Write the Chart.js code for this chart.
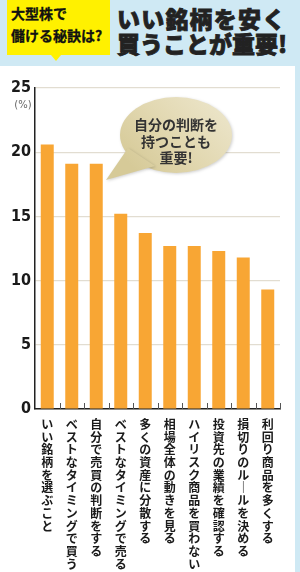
<!DOCTYPE html>
<html><head><meta charset="utf-8">
<script src="https://cdn.jsdelivr.net/npm/chart.js@4.4.1/dist/chart.umd.min.js"></script>
<style>
html,body{margin:0;padding:0;background:#fff;}
#wrap{position:relative;width:300px;height:572px;overflow:hidden;background:#fff;}
#hdr{position:absolute;left:0;top:0;width:300px;height:66px;background:#cfe9f4;z-index:2;}
#strip{position:absolute;left:295px;top:66px;width:5px;height:506px;background:#cfe9f4;z-index:2;}
#ybox{position:absolute;left:7px;top:0;width:103px;height:55px;background:#fff100;}
#ybox:after{content:"";position:absolute;left:44px;top:55px;border-left:5px solid transparent;border-right:5px solid transparent;border-top:6px solid #fff100;}
.yt{position:absolute;left:4px;font:700 14px "Noto Sans CJK JP",sans-serif;color:#111;white-space:nowrap;line-height:1;-webkit-text-stroke:0.3px #111;}
.tt{position:absolute;left:117px;font:900 23px "Noto Sans CJK JP",sans-serif;color:#222;white-space:nowrap;line-height:1;-webkit-text-stroke:0.8px #222;}
canvas{position:absolute;left:0;top:0;z-index:1;}
</style></head>
<body><div id="wrap">
<div id="hdr">
 <div id="ybox"><div class="yt" style="top:6px">大型株で</div><div class="yt" style="top:28px">儲ける秘訣は?</div></div>
 <div class="tt" style="top:7px;letter-spacing:1.2px">いい銘柄を安く</div>
 <div class="tt" style="top:32px">買うことが重要!</div>
</div>
<div id="strip"></div>
<canvas id="c" width="300" height="572"></canvas>
</div>
<script>
const categories = ['いい銘柄を選ぶこと','ベストなタイミングで買う','自分で売買の判断をする','ベストなタイミングで売る','多くの資産に分散する','相場全体の動きを見る','ハイリスク商品を買わない','投資先の業績を確認する','損切りのルールを決める','利回り商品を多くする'];
const values = [20.6,19.1,19.1,15.2,13.7,12.7,12.7,12.3,11.8,9.3];
const yTicks = [0,5,10,15,20,25];
const unitLabel = '(%)';
const bubbleLines = ['自分の判断を','持つことも','重要!'];

const verticalLabels = categories.map(s => Array.from(s).map(ch => ch === 'ー' ? '｜' : ch));

const extras = {
  id:'extras',
  afterDatasetsDraw(chart){
    const {ctx, chartArea:a} = chart;
    ctx.save();
    ctx.strokeStyle = '#555'; ctx.lineWidth = 1;
    const n = categories.length;
    const w = (a.right - a.left)/n;
    for(let i=1;i<=n;i++){
      const px = Math.round(a.left + i*w)+0.5;
      ctx.beginPath(); ctx.moveTo(px, a.bottom-6); ctx.lineTo(px, a.bottom); ctx.stroke();
    }
    ctx.fillStyle = '#666'; ctx.font = '10px "DejaVu Sans", sans-serif';
    ctx.textAlign = 'center'; ctx.textBaseline = 'middle';
    ctx.fillText(unitLabel, 23, 105);
    const cx = 176, cy = 135, rx = 56, ry = 38;
    ctx.shadowColor = 'rgba(0,0,0,0.18)'; ctx.shadowBlur = 3; ctx.shadowOffsetX = 1; ctx.shadowOffsetY = 1;
    const g = ctx.createLinearGradient(140, 175, 215, 100);
    g.addColorStop(0, '#d6ca98'); g.addColorStop(0.5, '#e2d8b1'); g.addColorStop(1, '#ebe4c8');
    ctx.fillStyle = g;
    ctx.beginPath();
    ctx.ellipse(cx, cy, rx, ry, 0, 0, Math.PI*2);
    ctx.fill();
    ctx.beginPath();
    ctx.moveTo(128, 148); ctx.lineTo(106, 180); ctx.lineTo(155, 166); ctx.closePath(); ctx.fill();
    ctx.shadowColor = 'transparent';
    ctx.fillStyle = '#333';
    ctx.font = '700 14px "Noto Sans CJK JP", sans-serif';
    bubbleLines.forEach((t,i)=> ctx.fillText(t, cx, 125 + i*16.5));
    ctx.restore();
  }
};

new Chart(document.getElementById('c'), {
  type:'bar',
  data:{ labels: verticalLabels, datasets:[{ data: values, backgroundColor:'#f8a634', borderWidth:0, barPercentage:0.53, categoryPercentage:1 }]},
  options:{
    responsive:false, animation:false,
    layout:{ padding:{ top:88, right:20, left:0, bottom:0 } },
    plugins:{ legend:{display:false}, tooltip:{enabled:false} },
    scales:{
      x:{
        grid:{ display:false, drawTicks:false },
        border:{ display:true, color:'#222', width:1.5 },
        ticks:{ autoSkip:false, maxRotation:0, minRotation:0, padding:9, color:'#1a1a1a',
          font:{ family:'"Noto Sans CJK JP", sans-serif', size:12, weight:'bold', lineHeight:'12.7px' } },
        afterFit(s){ s.height = 163; }
      },
      y:{
        min:0, max:25,
        afterBuildTicks(s){ s.ticks = yTicks.map(v=>({value:v})); },
        grid:{ color:'#e2ddd1', lineWidth:1.2, drawTicks:false },
        border:{ display:true, color:'#222', width:1.5 },
        ticks:{ padding:4, color:'#1a1a1a', font:{ family:'"Liberation Sans Narrow", "DejaVu Sans Condensed", sans-serif', size:16, weight:'bold' } },
        afterFit(s){ s.width = 35; }
      }
    }
  },
  plugins:[extras]
});
</script>
</body></html>
